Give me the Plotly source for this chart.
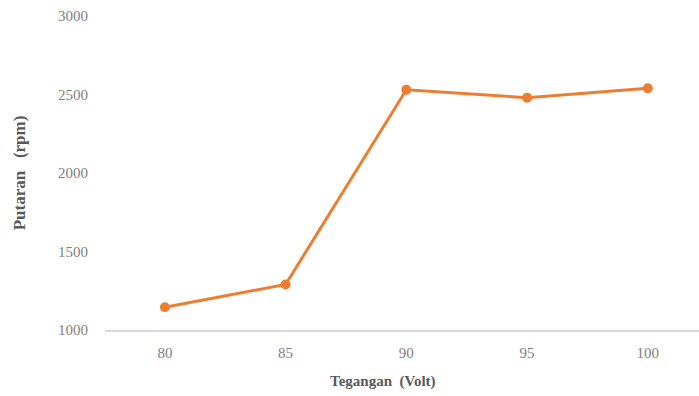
import plotly.graph_objects as go

tegangan = [80, 85, 90, 95, 100]
putaran = [1145, 1290, 2530, 2480, 2540]
y_ticks = [1000, 1500, 2000, 2500, 3000]

fig = go.Figure()
fig.add_trace(go.Scatter(
    x=tegangan, y=putaran, mode="lines+markers",
    line=dict(color="#ED7D31", width=3),
    marker=dict(color="#ED7D31", size=10),
    showlegend=False, cliponaxis=False,
))

font_family = "Liberation Serif, DejaVu Serif, serif"
fig.update_layout(
    width=699, height=396,
    margin=dict(l=105, r=0, t=16, b=66),
    paper_bgcolor="white", plot_bgcolor="white",
    font=dict(family=font_family, color="#808080", size=15),
    xaxis=dict(
        range=[77.52, 102.12], tickvals=tegangan, ticktext=[str(v) for v in tegangan],
        showgrid=False, zeroline=False, showline=True, linecolor="#d9d9d9", linewidth=1.5,
        ticks="", ticklabelstandoff=8,
    ),
    yaxis=dict(
        range=[1000, 3000], tickvals=y_ticks,
        showgrid=False, zeroline=False, showline=False, ticks="",
        ticklabelstandoff=16,
        title=dict(text="<b>Putaran\u00a0\u00a0 (rpm)</b>", font=dict(size=17, color="#595959"), standoff=28),
    ),
    annotations=[dict(
        text="<b>Tegangan\u00a0 (Volt)</b>", xref="paper", yref="paper",
        x=0.468, y=-0.165, xanchor="center", yanchor="middle", showarrow=False,
        font=dict(size=15, color="#595959", family=font_family),
    )],
)

fig.write_html(
    "out.html",
    config={"displayModeBar": False},
    post_script="document.body.style.margin='0';document.body.style.overflow='hidden';",
)
